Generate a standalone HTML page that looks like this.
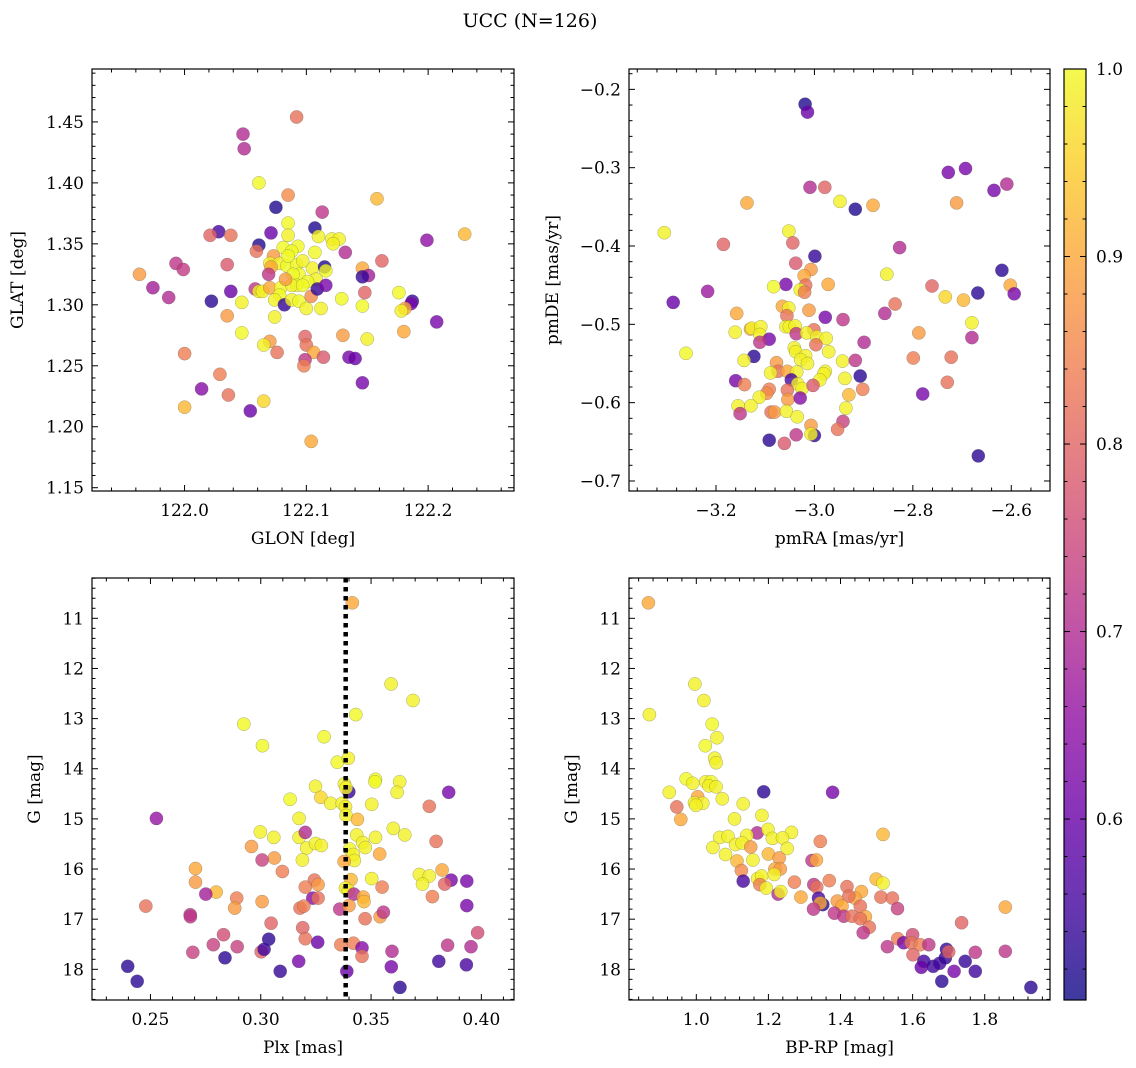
<!DOCTYPE html>
<html><head><meta charset="utf-8">
<style>
html,body{margin:0;padding:0;background:#fff;}
svg{display:block;font-family:"DejaVu Serif","Liberation Serif",serif;}
</style></head>
<body>
<svg id="fig" width="1136" height="1068" viewBox="0 0 1136 1068" xmlns="http://www.w3.org/2000/svg">
<text x="530" y="27" font-size="19" text-anchor="middle">UCC (N=126)</text>
</svg>
<script>
// ---- Panel 1: GLON / GLAT ----
const glon=[122.092,122.048,122.049,122.061,122.085,122.158,122.075,122.113,122.085,122.028,122.021,122.038,122.071,122.107,122.085,122.110,122.121,122.127,122.122,122.230,122.199,122.061,122.059,122.132,122.093,122.081,122.088,122.107,122.073,121.993,121.999,122.035,122.162,121.963,122.070,122.078,122.084,122.092,122.071,122.105,122.115,122.116,122.146,122.151,122.146,122.069,122.094,122.089,122.108,122.101,122.092,121.974,121.987,122.022,122.038,122.058,122.061,122.064,122.070,122.079,122.078,122.074,122.082,122.088,122.094,122.100,122.104,122.109,122.116,122.112,122.129,122.148,122.146,122.176,122.187,122.186,122.181,122.178,122.207,122.047,122.035,122.074,122.047,122.070,122.065,122.076,122.099,122.100,122.106,122.099,122.098,122.114,122.130,122.135,122.140,122.150,122.180,122.000,122.029,122.014,122.036,122.000,122.054,122.065,122.146,122.104,122.085,122.097,122.088,122.097,122.083];
const glat=[1.454,1.440,1.428,1.400,1.390,1.387,1.380,1.376,1.367,1.360,1.357,1.357,1.359,1.363,1.357,1.356,1.354,1.354,1.350,1.358,1.353,1.349,1.344,1.343,1.348,1.347,1.344,1.343,1.340,1.334,1.329,1.333,1.336,1.325,1.334,1.334,1.332,1.333,1.331,1.330,1.331,1.328,1.330,1.324,1.323,1.325,1.325,1.325,1.321,1.319,1.316,1.314,1.306,1.303,1.311,1.313,1.311,1.311,1.314,1.314,1.308,1.304,1.300,1.304,1.303,1.297,1.307,1.313,1.316,1.297,1.305,1.310,1.299,1.310,1.303,1.301,1.297,1.295,1.286,1.302,1.291,1.290,1.277,1.270,1.267,1.261,1.274,1.267,1.261,1.255,1.250,1.257,1.275,1.257,1.256,1.272,1.278,1.260,1.243,1.231,1.226,1.216,1.213,1.221,1.236,1.188,1.340,1.336,1.316,1.316,1.321];
const prob1=[0.82,0.70,0.70,1.00,0.86,0.92,0.52,0.72,1.00,0.56,0.80,0.82,0.60,0.52,0.99,0.99,0.99,0.99,0.99,0.92,0.65,0.52,0.82,0.70,1.00,1.00,1.00,1.00,0.88,0.72,0.73,0.78,0.80,0.88,0.99,0.99,1.00,1.00,0.90,0.99,0.52,1.00,0.90,0.68,0.54,0.72,1.00,1.00,0.99,1.00,1.00,0.68,0.70,0.53,0.60,0.72,0.99,0.99,0.90,1.00,1.00,0.99,0.54,0.99,1.00,0.99,0.86,0.54,0.62,0.99,1.00,0.80,1.00,1.00,0.54,0.62,0.90,0.99,0.62,0.99,0.88,0.99,1.00,0.88,0.99,0.82,0.80,0.82,0.90,0.72,0.84,0.78,0.88,0.62,0.60,0.99,0.90,0.84,0.84,0.64,0.82,0.92,0.60,0.96,0.62,0.90,1.00,0.99,0.99,1.00,0.88];

// ---- Panel 2: pmRA / pmDE ----
const pmra=[-3.019,-3.014,-2.728,-2.693,-2.635,-2.609,-3.009,-2.979,-2.948,-2.917,-2.881,-2.711,-3.137,-3.305,-3.185,-3.052,-3.044,-2.999,-3.038,-3.007,-3.021,-3.018,-3.029,-3.020,-3.058,-3.083,-2.972,-2.827,-2.853,-2.619,-2.602,-2.594,-2.668,-2.761,-2.734,-2.697,-3.217,-3.287,-2.836,-2.857,-3.065,-3.052,-3.011,-3.056,-3.158,-2.978,-2.942,-2.680,-2.680,-2.788,-3.161,-3.130,-3.127,-3.109,-3.111,-3.058,-3.051,-3.039,-3.037,-3.001,-3.016,-2.995,-2.976,-2.997,-3.092,-3.111,-2.899,-3.041,-3.038,-3.018,-3.028,-3.014,-2.971,-2.943,-2.917,-2.799,-2.722,-3.123,-3.143,-3.261,-3.077,-3.074,-3.089,-3.055,-3.036,-2.978,-2.981,-2.989,-2.938,-2.907,-3.047,-3.034,-3.025,-3.003,-3.160,-3.142,-3.092,-3.097,-3.055,-3.054,-3.029,-3.112,-3.129,-3.155,-3.151,-3.088,-3.081,-3.057,-3.035,-2.930,-2.936,-2.902,-2.942,-2.953,-3.007,-3.000,-3.007,-3.037,-3.061,-3.092,-2.780,-2.730,-2.667];
const pmde=[-0.219,-0.229,-0.306,-0.301,-0.329,-0.321,-0.325,-0.325,-0.343,-0.353,-0.348,-0.345,-0.345,-0.383,-0.398,-0.381,-0.396,-0.413,-0.422,-0.430,-0.438,-0.450,-0.456,-0.459,-0.449,-0.452,-0.449,-0.402,-0.436,-0.431,-0.450,-0.461,-0.460,-0.451,-0.465,-0.469,-0.458,-0.472,-0.474,-0.486,-0.477,-0.479,-0.482,-0.489,-0.486,-0.491,-0.494,-0.498,-0.517,-0.511,-0.510,-0.506,-0.505,-0.503,-0.513,-0.503,-0.503,-0.502,-0.512,-0.507,-0.511,-0.516,-0.518,-0.526,-0.519,-0.523,-0.523,-0.530,-0.535,-0.540,-0.545,-0.550,-0.535,-0.547,-0.546,-0.543,-0.542,-0.541,-0.546,-0.537,-0.549,-0.560,-0.562,-0.560,-0.561,-0.560,-0.563,-0.571,-0.569,-0.566,-0.571,-0.576,-0.582,-0.578,-0.572,-0.577,-0.583,-0.588,-0.584,-0.596,-0.594,-0.593,-0.604,-0.604,-0.614,-0.612,-0.612,-0.611,-0.618,-0.590,-0.607,-0.583,-0.624,-0.634,-0.629,-0.642,-0.640,-0.641,-0.652,-0.648,-0.589,-0.574,-0.668];
const prob2=[0.52,0.60,0.62,0.62,0.62,0.70,0.70,0.80,0.99,0.52,0.90,0.88,0.90,0.99,0.80,0.99,0.80,0.54,0.78,0.88,0.90,0.82,0.99,0.84,0.62,1.00,0.90,0.70,0.99,0.53,0.90,0.62,0.53,0.80,0.96,0.92,0.67,0.60,0.82,0.70,0.90,0.99,0.88,0.82,0.90,0.62,0.72,0.99,0.70,0.88,0.99,0.90,0.99,0.99,0.99,0.99,0.99,0.99,0.72,0.82,0.99,0.99,0.99,0.82,0.62,0.72,0.70,0.99,0.99,0.99,0.99,0.99,0.99,0.99,0.72,0.84,0.82,0.53,0.99,1.00,0.88,0.82,0.99,0.90,0.99,0.99,0.99,0.99,0.99,0.53,0.56,0.99,0.99,0.78,0.62,0.84,0.84,0.86,0.82,0.88,0.64,0.99,0.99,0.99,0.72,0.82,0.88,0.99,0.99,0.92,0.99,0.84,0.74,0.82,0.88,0.54,0.99,0.72,0.78,0.53,0.62,0.82,0.53];

// ---- Panel 3: Plx / G ----
const plx=[0.3415,0.3591,0.3690,0.3431,0.2923,0.3008,0.3287,0.3347,0.3397,0.3248,0.3379,0.3399,0.3387,0.3520,0.3518,0.3630,0.3618,0.3852,0.3133,0.3272,0.3317,0.3369,0.3384,0.3503,0.3764,0.2527,0.3174,0.3387,0.3438,0.2998,0.3059,0.3174,0.3202,0.3208,0.3248,0.3275,0.3435,0.3462,0.3474,0.3403,0.3420,0.3424,0.3520,0.3601,0.3653,0.3795,0.3539,0.2958,0.3062,0.3006,0.3189,0.3378,0.2704,0.3098,0.3822,0.3719,0.3764,0.3733,0.3503,0.3409,0.3384,0.3397,0.2704,0.3243,0.3260,0.3202,0.3550,0.3863,0.3934,0.3834,0.2798,0.2751,0.2891,0.2882,0.3006,0.3236,0.3260,0.3422,0.3465,0.3468,0.3778,0.2479,0.3178,0.3195,0.3358,0.3400,0.3934,0.2680,0.2681,0.3047,0.3473,0.3541,0.3556,0.3983,0.2831,0.3036,0.3190,0.3202,0.3258,0.3363,0.3420,0.3459,0.3459,0.2785,0.2893,0.2692,0.3002,0.3015,0.2838,0.3172,0.3088,0.3595,0.3592,0.3390,0.3631,0.3847,0.3953,0.3807,0.3932,0.2397,0.2440];
const gmag3=[10.69,12.31,12.64,12.92,13.11,13.54,13.36,13.87,13.79,14.35,14.30,14.46,14.38,14.21,14.26,14.26,14.47,14.47,14.61,14.57,14.69,14.69,14.76,14.71,14.75,14.99,14.99,14.93,15.01,15.26,15.37,15.37,15.27,15.58,15.49,15.53,15.32,15.47,15.57,15.60,15.71,15.83,15.37,15.19,15.32,15.45,15.70,15.55,15.78,15.82,15.82,15.85,15.99,16.05,16.02,16.11,16.14,16.30,16.19,16.21,16.38,16.43,16.26,16.22,16.31,16.36,16.36,16.22,16.24,16.30,16.46,16.50,16.58,16.78,16.65,16.58,16.58,16.50,16.56,16.65,16.55,16.74,16.78,16.74,16.80,16.73,16.73,16.91,16.95,17.08,16.99,16.95,16.86,17.27,17.31,17.40,17.17,17.39,17.46,17.51,17.48,17.57,17.74,17.51,17.55,17.66,17.65,17.60,17.77,17.84,18.04,17.64,17.95,18.04,18.36,17.52,17.55,17.84,17.91,17.94,18.24];
const prob3=[0.90,0.99,0.99,1.00,1.00,1.00,1.00,1.00,0.99,0.99,0.99,0.54,0.99,1.00,1.00,0.99,0.99,0.62,1.00,0.96,0.99,0.99,0.99,0.99,0.82,0.66,0.99,0.99,0.92,0.99,0.99,0.99,0.70,0.99,0.99,0.99,0.99,0.99,0.99,1.00,0.99,0.99,0.99,0.99,0.99,0.82,0.90,0.88,0.88,0.74,0.99,0.90,0.90,0.84,0.90,0.99,0.99,0.99,0.99,0.92,0.99,0.99,0.88,0.82,0.88,0.84,0.84,0.62,0.62,0.80,0.92,0.68,0.84,0.88,0.88,0.64,0.82,0.70,0.90,0.92,0.84,0.82,0.82,0.84,0.72,0.88,0.62,0.72,0.72,0.80,0.82,0.88,0.72,0.76,0.76,0.53,0.80,0.82,0.60,0.84,0.84,0.64,0.82,0.74,0.74,0.74,0.80,0.55,0.53,0.62,0.54,0.70,0.62,0.60,0.53,0.72,0.70,0.55,0.56,0.53,0.53];
const plxMedian=[0.3385];

// ---- Panel 4: BP-RP / G ----
const bprp=[0.867,0.870,0.996,1.021,1.044,1.057,1.025,1.051,1.055,0.972,0.990,1.026,1.041,1.035,1.055,0.925,1.187,1.378,1.004,0.995,1.018,0.999,1.072,0.946,0.957,1.130,1.182,1.106,1.518,1.169,1.199,1.264,1.211,1.239,1.252,1.065,1.088,1.140,1.046,1.109,1.127,1.151,1.081,1.344,1.200,1.230,1.113,1.157,1.321,1.333,1.125,1.218,1.233,1.216,1.130,1.170,1.181,1.176,1.194,1.227,1.234,1.272,1.369,1.499,1.518,1.290,1.326,1.334,1.418,1.458,1.440,1.423,1.339,1.351,1.344,1.325,1.391,1.404,1.383,1.409,1.432,1.455,1.469,1.455,1.480,1.463,1.512,1.544,1.558,1.857,1.736,1.559,1.575,1.530,1.600,1.596,1.621,1.645,1.601,1.631,1.624,1.657,1.675,1.691,1.694,1.700,1.681,1.715,1.746,1.774,1.774,1.857,1.928];
const gmag4=[10.69,12.92,12.31,12.64,13.11,13.38,13.54,13.79,13.88,14.20,14.29,14.26,14.26,14.34,14.36,14.47,14.46,14.47,14.56,14.68,14.69,14.73,14.60,14.76,15.01,14.70,14.93,15.00,15.31,15.28,15.21,15.27,15.39,15.38,15.59,15.37,15.35,15.33,15.57,15.51,15.48,15.56,15.71,15.45,15.70,15.78,15.84,15.82,15.83,15.82,16.03,16.00,16.00,16.11,16.24,16.19,16.14,16.31,16.38,16.50,16.45,16.26,16.23,16.20,16.28,16.56,16.31,16.36,16.35,16.45,16.58,16.54,16.58,16.71,16.68,16.80,16.64,16.74,16.88,16.94,16.94,16.74,16.95,16.99,17.16,17.27,16.56,16.58,16.79,16.76,17.07,17.39,17.47,17.55,17.31,17.47,17.51,17.51,17.71,17.84,17.96,17.94,17.88,17.77,17.60,17.65,18.24,18.04,17.84,18.04,17.66,17.64,18.36];
const prob4=[0.90,0.99,0.99,0.99,1.00,0.99,1.00,0.99,0.99,1.00,0.99,0.99,1.00,0.99,0.99,0.99,0.53,0.62,0.90,0.99,0.99,0.99,0.99,0.82,0.90,0.99,0.99,0.99,0.92,0.70,0.99,0.99,0.99,0.99,0.99,0.99,0.99,0.99,0.99,0.99,0.99,0.88,0.99,0.84,0.92,0.88,0.92,0.99,0.72,0.90,0.86,0.90,0.88,0.99,0.56,0.99,0.99,0.84,0.99,0.70,0.99,0.84,0.84,0.92,0.99,0.90,0.72,0.82,0.82,0.90,0.90,0.82,0.56,0.53,0.90,0.72,0.88,0.90,0.72,0.72,0.82,0.82,0.90,0.82,0.82,0.72,0.82,0.82,0.74,0.90,0.80,0.84,0.62,0.72,0.76,0.82,0.84,0.72,0.80,0.55,0.60,0.55,0.55,0.54,0.54,0.80,0.53,0.62,0.54,0.55,0.72,0.72,0.53];

// ---- Colorbar ticks ----
const cbTicks=[0.6,0.7,0.8,0.9,1.0];
const cbMin=0.5035, cbMax=1.0;

const NS="http://www.w3.org/2000/svg";
const svg=document.getElementById('fig');
function mk(tag,attrs,parent){const e=document.createElementNS(NS,tag);for(const k in attrs)e.setAttribute(k,attrs[k]);(parent||svg).appendChild(e);return e;}

const stops=[[0,[13,8,135]],[0.1,[65,4,157]],[0.2,[106,0,168]],[0.3,[143,13,164]],[0.4,[177,42,144]],[0.5,[204,71,120]],[0.6,[225,100,98]],[0.7,[242,132,75]],[0.8,[252,166,54]],[0.9,[252,206,37]],[1,[240,249,33]]];
function plasma(t){t=Math.max(0,Math.min(1,t));for(let i=1;i<stops.length;i++){if(t<=stops[i][0]){const a=stops[i-1],b=stops[i];const f=(t-a[0])/(b[0]-a[0]);const c=a[1].map((v,j)=>Math.round(v+(b[1][j]-v)*f));return `rgb(${c[0]},${c[1]},${c[2]})`;}}return 'rgb(240,249,33)';}
function colorOf(p){return plasma((p-cbMin)/(cbMax-cbMin));}

function fmt(v,d){return (v<0?'\u2212':'')+Math.abs(v).toFixed(d);}

function panel(o){
  const g=mk('g',{});
  
  
  const X=v=>o.x0+(v-o.xmin)/(o.xmax-o.xmin)*(o.x1-o.x0);
  const Y=o.invert? (v=>o.y0+(v-o.ymin)/(o.ymax-o.ymin)*(o.y1-o.y0)) : (v=>o.y1-(v-o.ymin)/(o.ymax-o.ymin)*(o.y1-o.y0));
  const pg=mk('g',{},g);
  
  
  for(let i=0;i<o.xs.length;i++){
    const c=mk('circle',{cx:X(o.xs[i]).toFixed(1),cy:Y(o.ys[i]).toFixed(1),r:6.6,fill:colorOf(o.ps[i]),'fill-opacity':0.8,stroke:'#555','stroke-width':0.4,'stroke-opacity':0.6},pg);
    
    
  }
  if(o.vline){
    const l=mk('line',{x1:X(o.vline[0]),x2:X(o.vline[0]),y1:o.y0,y2:o.y1,stroke:'#000','stroke-width':4.5,'stroke-dasharray':'4.5 4.5'},g);
    
    
  }
  const fr=mk('rect',{x:o.x0,y:o.y0,width:o.x1-o.x0,height:o.y1-o.y0,fill:'none',stroke:'#000','stroke-width':1.2},g);
  
  
  const xt=mk('g',{},g);
  
  
  const e=1e-9;
  for(let v=Math.ceil(o.xmin/o.xminor)*o.xminor;v<=o.xmax+e;v+=o.xminor){
    const px=X(v);const major=Math.abs(v/o.xmajor-Math.round(v/o.xmajor))<1e-4;const L=major?6:3.5;
    mk('line',{x1:px,x2:px,y1:o.y1,y2:o.y1-L,stroke:'#000','stroke-width':1},xt);
    mk('line',{x1:px,x2:px,y1:o.y0,y2:o.y0+L,stroke:'#000','stroke-width':1},xt);
    if(major){const t=mk('text',{x:px,y:o.y1+25,'font-size':17,'text-anchor':'middle'},xt);t.textContent=fmt(v,o.xd);
      
      }
  }
  const yt=mk('g',{},g);
  
  
  for(let v=Math.ceil(o.ymin/o.yminor)*o.yminor;v<=o.ymax+e;v+=o.yminor){
    const py=Y(v);const major=Math.abs(v/o.ymajor-Math.round(v/o.ymajor))<1e-4;const L=major?6:3.5;
    mk('line',{x1:o.x0,x2:o.x0+L,y1:py,y2:py,stroke:'#000','stroke-width':1},yt);
    mk('line',{x1:o.x1,x2:o.x1-L,y1:py,y2:py,stroke:'#000','stroke-width':1},yt);
    if(major){const t=mk('text',{x:o.x0-8,y:py+6,'font-size':17,'text-anchor':'end'},yt);t.textContent=fmt(v,o.yd);
      
      }
  }
  const xl=mk('text',{x:(o.x0+o.x1)/2,y:o.y1+53,'font-size':17,'text-anchor':'middle'},g);
  xl.textContent=o.xlabel;
  
  
  const cy=(o.y0+o.y1)/2;
  const yl=mk('text',{x:o.ylx,y:cy,'font-size':17,'text-anchor':'middle',transform:`rotate(-90 ${o.ylx} ${cy})`},g);
  yl.textContent=o.ylabel;
  
  
}

panel({name:'glon-glat-panel',xs:glon,ys:glat,ps:prob1,x0:92,x1:514,y0:69,y1:491,xmin:121.924,xmax:122.2705,ymin:1.1473,ymax:1.4934,xmajor:0.1,xminor:0.02,ymajor:0.05,yminor:0.01,xd:1,yd:2,xlabel:'GLON [deg]',ylabel:'GLAT [deg]',ylx:23});
panel({name:'pm-panel',xs:pmra,ys:pmde,ps:prob2,x0:629,x1:1050,y0:69,y1:491,xmin:-3.3768,xmax:-2.5213,ymin:-0.7128,ymax:-0.174,xmajor:0.2,xminor:0.04,ymajor:0.1,yminor:0.02,xd:1,yd:1,xlabel:'pmRA [mas/yr]',ylabel:'pmDE [mas/yr]',ylx:558});
panel({name:'plx-g-panel',xs:plx,ys:gmag3,ps:prob3,vline:plxMedian,invert:true,x0:92,x1:514,y0:578,y1:1000,xmin:0.2235,xmax:0.4148,ymin:10.196,ymax:18.612,xmajor:0.05,xminor:0.01,ymajor:1,yminor:0.2,xd:2,yd:0,xlabel:'Plx [mas]',ylabel:'G [mag]',ylx:40});
panel({name:'cmd-panel',xs:bprp,ys:gmag4,ps:prob4,invert:true,x0:629,x1:1050,y0:578,y1:1000,xmin:0.8133,xmax:1.9811,ymin:10.196,ymax:18.612,xmajor:0.2,xminor:0.04,ymajor:1,yminor:0.2,xd:1,yd:0,xlabel:'BP-RP [mag]',ylabel:'G [mag]',ylx:577});

(function(){
  const g=mk('g',{});
  
  
  const x0=1064,x1=1086,y0=69,y1=1000;
  const defs=mk('defs',{},g);
  const lg=mk('linearGradient',{id:'cbg',x1:0,y1:1,x2:0,y2:0},defs);
  for(let i=0;i<=20;i++){const t=i/20;mk('stop',{offset:t,'stop-color':plasma(t),'stop-opacity':0.8},lg);}
  mk('rect',{x:x0,y:y0,width:x1-x0,height:y1-y0,fill:'url(#cbg)'},g);
  mk('rect',{x:x0,y:y0,width:x1-x0,height:y1-y0,fill:'none',stroke:'#000','stroke-width':1.2},g);
  const Yc=v=>y1-(v-cbMin)/(cbMax-cbMin)*(y1-y0);
  for(let v=0.52;v<=1.0001;v+=0.02){const py=Yc(v);
    mk('line',{x1:x1,x2:x1-3.5,y1:py,y2:py,stroke:'#000','stroke-width':1},g);
    mk('line',{x1:x0,x2:x0+3.5,y1:py,y2:py,stroke:'#000','stroke-width':1},g);}
  for(let i=0;i<cbTicks.length;i++){const py=Yc(cbTicks[i]);
    mk('line',{x1:x1,x2:x1-6,y1:py,y2:py,stroke:'#000','stroke-width':1},g);
    mk('line',{x1:x0,x2:x0+6,y1:py,y2:py,stroke:'#000','stroke-width':1},g);
    const t=mk('text',{x:x1+10,y:py+6,'font-size':17},g);t.textContent=cbTicks[i].toFixed(1);
    
    }
})();
</script>
</body></html>
